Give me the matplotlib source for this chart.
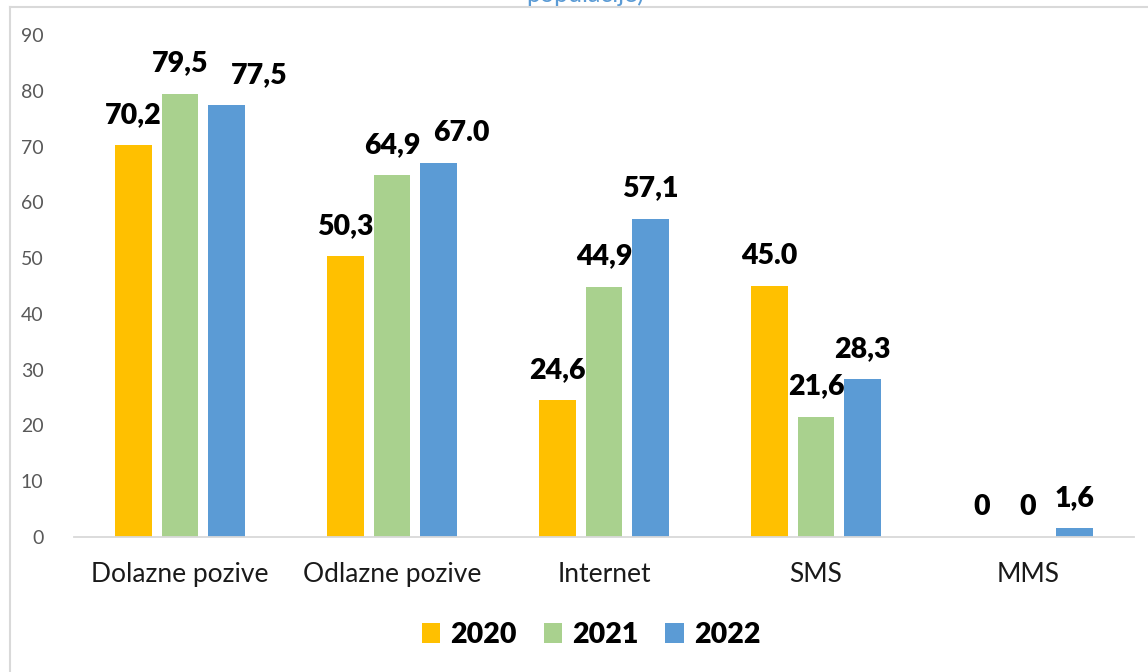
import matplotlib
matplotlib.use("Agg")
import matplotlib.pyplot as plt
from matplotlib.lines import Line2D
from matplotlib.patches import Patch
import numpy as np

plt.rcParams['font.family'] = ['Lato', 'DejaVu Sans']

categories = ["Dolazne pozive", "Odlazne pozive", "Internet", "SMS", "MMS"]
years = ["2020", "2021", "2022"]
values_2020 = [70.2, 50.3, 24.6, 45.0, 0.0]
values_2021 = [79.5, 64.9, 44.9, 21.6, 0.0]
values_2022 = [77.5, 67.0, 57.1, 28.3, 1.6]
labels_2020 = ["70,2", "50,3", "24,6", "45.0", "0"]
labels_2021 = ["79,5", "64,9", "44,9", "21,6", "0"]
labels_2022 = ["77,5", "67.0", "57,1", "28,3", "1,6"]
yticks = [0, 10, 20, 30, 40, 50, 60, 70, 80, 90]

colors = ["#ffc000", "#a9d18e", "#5b9bd5"]
series = [values_2020, values_2021, values_2022]
series_labels = [labels_2020, labels_2021, labels_2022]
# horizontal nudges (pixels) for labels that would collide
label_dx = [[0, 0, 0, 0, 0],
            [0, 0, 0, 0, 0],
            [33, 23, 0, 0, 0]]

W, H = 1148, 672
fig = plt.figure(figsize=(W / 100, H / 100), dpi=100)
ax = fig.add_axes([74 / W, 1 - 537 / H, (1134 - 74) / W, (537 - 35) / H])

x = np.arange(len(categories))
offset = 0.219
width = 0.172
px_per_pt = 100 / 72

for i, (vals, labs, col) in enumerate(zip(series, series_labels, colors)):
    pos = x + (i - 1) * offset
    ax.bar(pos, vals, width=width, color=col, zorder=2)
    for j, (p, v, lab) in enumerate(zip(pos, vals, labs)):
        ax.annotate(lab, xy=(p, v), xytext=(label_dx[i][j] / px_per_pt, 30 / px_per_pt),
                    textcoords="offset points", ha="center", va="center",
                    fontsize=20.5, fontweight="heavy", color="black", zorder=3)

ax.set_xlim(-0.5, len(categories) - 0.5)
ax.set_ylim(0, 90)
ax.set_yticks(yticks)
ax.set_yticklabels([str(t) for t in yticks])
ax.set_xticks(x)
ax.set_xticklabels(categories)

for s in ["top", "right", "left"]:
    ax.spines[s].set_visible(False)
ax.spines["bottom"].set_color("#d9d9d9")
ax.spines["bottom"].set_linewidth(1.3)
ax.tick_params(axis="y", length=0, labelsize=14, labelcolor="#595959", pad=22)
ax.tick_params(axis="x", length=0, labelsize=19, labelcolor="#1a1a1a", pad=18)

handles = [Patch(facecolor=c, edgecolor="none") for c in colors]
leg = fig.legend(handles, years, loc="center", bbox_to_anchor=(591 / W, 1 - 635 / H),
                 ncol=3, frameon=False, handlelength=0.65, handleheight=0.65,
                 handletextpad=0.35, columnspacing=0.95,
                 prop={"size": 20.5, "weight": "heavy"})

# outer frame of the chart area
fig.add_artist(Line2D([9.5 / W, 1], [1 - 6.5 / H, 1 - 6.5 / H], color="#d9d9d9", lw=1.5,
                      transform=fig.transFigure))
fig.add_artist(Line2D([9.5 / W, 9.5 / W], [0, 1 - 6.5 / H], color="#d9d9d9", lw=1.5,
                      transform=fig.transFigure))

fig.text(585 / W, 1 - 2 / H, "populacije)", ha="center", va="baseline",
         fontsize=18, color="#5b9bd5")

fig.savefig("out.png", dpi=100)
